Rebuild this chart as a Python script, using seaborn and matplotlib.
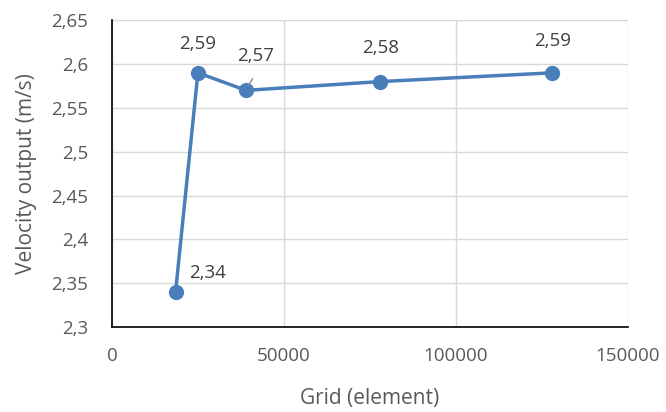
import matplotlib
matplotlib.use("Agg")
import matplotlib.pyplot as plt
import seaborn as sns
import pandas as pd
from matplotlib.ticker import FuncFormatter, MultipleLocator

grid_elements = [18500, 25000, 39000, 78000, 128000]
velocity = [2.34, 2.59, 2.57, 2.58, 2.59]
label_texts = ["2,34", "2,59", "2,57", "2,58", "2,59"]

sns.set_theme(style="white")
plt.rcParams['font.family'] = ['Open Sans', 'DejaVu Sans']

df = pd.DataFrame({"grid": grid_elements, "vel": velocity})

fig = plt.figure(figsize=(6.66, 4.12), dpi=100)
ax = fig.add_axes([0.168, 0.206, 0.775, 0.745])

color = "#4a7ebb"
sns.lineplot(data=df, x="grid", y="vel", ax=ax, color=color, linewidth=2.5,
             marker="o", markersize=11, markeredgewidth=0, sort=False)

ax.set_xlim(0, 150000)
ax.set_ylim(2.3, 2.65)
ax.xaxis.set_major_locator(MultipleLocator(50000))
ax.yaxis.set_major_locator(MultipleLocator(0.05))

def yfmt(v, pos):
    s = f"{v:.2f}".rstrip("0").rstrip(".")
    return s.replace(".", ",")
ax.yaxis.set_major_formatter(FuncFormatter(yfmt))
ax.xaxis.set_major_formatter(FuncFormatter(lambda v, p: f"{int(v)}"))

ax.grid(True, color="#d9d9d9", linewidth=1)
ax.set_axisbelow(True)
for s in ["top", "right"]:
    ax.spines[s].set_visible(False)
for s in ["left", "bottom"]:
    ax.spines[s].set_color("black")
    ax.spines[s].set_linewidth(1.2)

ax.tick_params(axis="both", which="major", direction="out", length=5, width=1.2,
               color="black", labelsize=13.5, labelcolor="#595959")
ax.tick_params(axis="y", pad=12)
ax.tick_params(axis="x", pad=9)

ax.set_xlabel("Grid (element)", fontsize=15, color="#595959", labelpad=17)
ax.set_ylabel("Velocity output (m/s)", fontsize=15, color="#595959", labelpad=10)

offsets = [(23, 14), (0, 21), (7, 25), (0, 24), (0, 23)]
for x, y, t, off in zip(grid_elements, velocity, label_texts, offsets):
    ax.annotate(t, (x, y), xytext=off, textcoords="offset points",
                ha="center", va="center", fontsize=13.5, color="#404040")

# leader line for 2,57
ax.annotate("", xy=(grid_elements[2] + 300, velocity[2] + 0.003),
            xytext=(grid_elements[2] + 2300, velocity[2] + 0.016),
            arrowprops=dict(arrowstyle="-", color="#8c8c8c", lw=1.0))

fig.savefig("out.png", dpi=100)
